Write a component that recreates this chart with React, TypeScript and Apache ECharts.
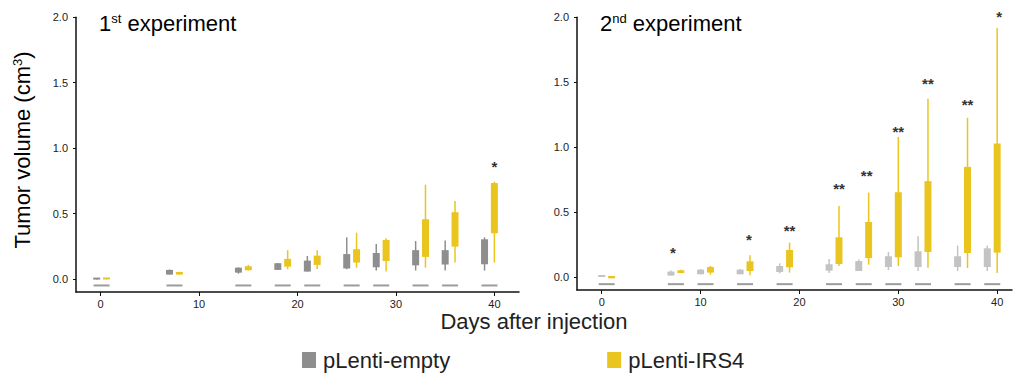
import React, { useEffect, useRef } from "react";
import * as echarts from "echarts";

const FONT = "'Liberation Sans', Arial, Helvetica, sans-serif";

// Experiment 1
const exp1GrayDays = [-0.4, 7, 14, 18, 21, 25, 28, 32, 35, 39];
const exp1YellowDays = [0.6, 8, 15, 19, 22, 26, 29, 33, 36, 40];
// [min, q1, q3, max]
const exp1Gray = [
  [-0.005, -0.005, 0.005, 0.005],
  [0.033, 0.033, 0.069, 0.072],
  [0.04, 0.048, 0.086, 0.088],
  [0.069, 0.069, 0.12, 0.122],
  [0.056, 0.056, 0.14, 0.175],
  [0.074, 0.08, 0.19, 0.318],
  [0.064, 0.089, 0.198, 0.267],
  [0.064, 0.104, 0.22, 0.29],
  [0.064, 0.11, 0.22, 0.293],
  [0.064, 0.112, 0.303, 0.318],
];
const exp1Yellow = [
  [-0.004, -0.004, 0.004, 0.004],
  [0.033, 0.033, 0.053, 0.055],
  [0.066, 0.066, 0.097, 0.107],
  [0.074, 0.094, 0.153, 0.22],
  [0.076, 0.107, 0.178, 0.22],
  [0.086, 0.125, 0.227, 0.353],
  [0.056, 0.137, 0.298, 0.31],
  [0.086, 0.168, 0.456, 0.72],
  [0.125, 0.247, 0.51, 0.595],
  [0.125, 0.349, 0.733, 0.743],
];
const exp1StarX = [40];
const exp1StarY = [0.89];
const exp1StarText = ["*"];

// Experiment 2
const exp2GrayDays = [0, 7, 10, 14, 18, 23, 26, 29, 32, 36, 39];
const exp2YellowDays = [1, 8, 11, 15, 19, 24, 27, 30, 33, 37, 40];
const exp2Gray = [
  [0, 0, 0.003, 0.003],
  [0.011, 0.011, 0.042, 0.05],
  [0.021, 0.021, 0.057, 0.06],
  [0.021, 0.021, 0.057, 0.06],
  [0.028, 0.039, 0.085, 0.105],
  [0.031, 0.049, 0.098, 0.139],
  [0.046, 0.046, 0.123, 0.134],
  [0.054, 0.077, 0.16, 0.193],
  [0.046, 0.077, 0.198, 0.314],
  [0.046, 0.077, 0.16, 0.242],
  [0.046, 0.077, 0.221, 0.242],
];
const exp2Yellow = [
  [-0.01, -0.01, 0.008, 0.008],
  [0.031, 0.031, 0.052, 0.055],
  [0.018, 0.034, 0.077, 0.085],
  [0.013, 0.046, 0.121, 0.167],
  [0.034, 0.075, 0.208, 0.265],
  [0.085, 0.1, 0.306, 0.547],
  [0.095, 0.146, 0.424, 0.65],
  [0.085, 0.152, 0.653, 1.079],
  [0.072, 0.193, 0.738, 1.372],
  [0.069, 0.185, 0.848, 1.226],
  [0.031, 0.188, 1.028, 1.917],
];
const exp2StarX = [7.2, 14.9, 19, 24, 26.8, 30, 33, 37, 40.2];
const exp2StarY = [0.22, 0.32, 0.39, 0.71, 0.81, 1.15, 1.52, 1.36, 2.035];
const exp2StarText = ["*", "*", "**", "**", "**", "**", "**", "**", "*"];

const dash1Y = -0.05;
const dash2Y = -0.055;

const xTicks = [0, 10, 20, 30, 40];
const yTicks = [0, 0.5, 1.0, 1.5, 2.0];

const GRAY_DARK = "#8e8e8e";
const GRAY_LIGHT = "#c3c3c3";
const YELLOW = "#ebc51f";
const DASH = "#9c9c9c";

function boxSeries(name: string, idx: number, days: number[], vals: number[][], color: string) {
  return {
    type: "custom",
    name,
    xAxisIndex: idx,
    yAxisIndex: idx,
    itemStyle: { color },
    data: days.map((d, i) => [d, ...vals[i]]),
    encode: { x: 0, y: [1, 2, 3, 4] },
    renderItem: (params: any, api: any) => {
      const x = api.value(0);
      const pMin = api.coord([x, api.value(1)]);
      const pQ1 = api.coord([x, api.value(2)]);
      const pQ3 = api.coord([x, api.value(3)]);
      const pMax = api.coord([x, api.value(4)]);
      const h = Math.max(pQ1[1] - pQ3[1], 2);
      return {
        type: "group",
        children: [
          {
            type: "line",
            shape: { x1: pMin[0], y1: pMin[1], x2: pMax[0], y2: pMax[1] },
            style: { stroke: color, lineWidth: 1.5 },
          },
          {
            type: "rect",
            shape: { x: pQ1[0] - 3.5, y: pQ1[1] - h, width: 7, height: h },
            style: { fill: color },
          },
        ],
      };
    },
  };
}

function dashSeries(idx: number, g: number[], y: number[], dy: number) {
  return {
    type: "custom",
    xAxisIndex: idx,
    yAxisIndex: idx,
    silent: true,
    data: g.map((d, i) => [(d + y[i]) / 2, dy]),
    renderItem: (params: any, api: any) => {
      const p = api.coord([api.value(0), api.value(1)]);
      return {
        type: "rect",
        shape: { x: p[0] - 8, y: p[1] - 1, width: 16, height: 2 },
        style: { fill: DASH },
      };
    },
  };
}

function starSeries(idx: number, xs: number[], ys: number[], texts: string[]) {
  return {
    type: "custom",
    xAxisIndex: idx,
    yAxisIndex: idx,
    silent: true,
    clip: false,
    data: xs.map((x, i) => [x, ys[i]]),
    renderItem: (params: any, api: any) => {
      const p = api.coord([api.value(0), api.value(1)]);
      return {
        type: "text",
        x: p[0],
        y: p[1] + 4,
        style: {
          text: texts[params.dataIndex],
          fill: "#333",
          font: `bold 15px ${FONT}`,
          align: "center",
          verticalAlign: "middle",
        },
      };
    },
  };
}

function xAxis(idx: number, max: number) {
  return {
    type: "value",
    gridIndex: idx,
    min: -2.5,
    max,
    axisLine: { show: true, onZero: false, lineStyle: { color: "#111", width: 1.5 } },
    axisTick: { show: true, length: 4, lineStyle: { color: "#111", width: 1 }, customValues: xTicks },
    axisLabel: { customValues: xTicks, color: "#222", fontSize: 11, fontFamily: FONT, margin: 6 },
    splitLine: { show: false },
  };
}

function yAxis(idx: number) {
  return {
    type: "value",
    gridIndex: idx,
    min: -0.1,
    max: 2.0,
    axisLine: { show: true, onZero: false, lineStyle: { color: "#111", width: 1.5 } },
    axisTick: { show: true, length: 3, lineStyle: { color: "#111", width: 1 }, customValues: yTicks },
    axisLabel: {
      customValues: yTicks,
      color: "#222",
      fontSize: 11,
      fontFamily: FONT,
      margin: 8,
      formatter: (v: number) => v.toFixed(1),
    },
    splitLine: { show: false },
  };
}

export default function App() {
  const ref = useRef<HTMLDivElement>(null);
  useEffect(() => {
    if (!ref.current) return;
    const chart = echarts.init(ref.current, undefined, { renderer: "svg" });
    const rich = {
      a: { fontSize: 22, fontFamily: FONT, color: "#222" },
      s: { fontSize: 13, fontFamily: FONT, color: "#222", verticalAlign: "top" },
    };
    chart.setOption({
      animation: false,
      backgroundColor: "#fff",
      grid: [
        { left: 76, top: 17.3, width: 443, height: 274.7 },
        { left: 577, top: 17.3, width: 435, height: 272.7 },
      ],
      xAxis: [xAxis(0, 42.5), xAxis(1, 41.5)],
      yAxis: [yAxis(0), yAxis(1)],
      legend: {
        left: 302,
        top: 349,
        padding: 0,
        itemWidth: 14,
        itemHeight: 16,
        itemGap: 157,
        selectedMode: false,
        textStyle: { fontSize: 22, fontFamily: FONT, color: "#222", padding: [0, 0, 0, 2] },
        data: [
          { name: "pLenti-empty", icon: "rect", itemStyle: { color: GRAY_DARK } },
          { name: "pLenti-IRS4", icon: "rect", itemStyle: { color: YELLOW } },
        ],
      },
      graphic: [
        {
          type: "text",
          left: 99,
          top: 12,
          style: { text: "{a|1}{s|st}{a| experiment}", rich },
        },
        {
          type: "text",
          left: 600,
          top: 12,
          style: { text: "{a|2}{s|nd}{a| experiment}", rich },
        },
        {
          type: "text",
          x: 22,
          y: 150,
          rotation: Math.PI / 2,
          style: {
            text: "{a|Tumor volume (cm}{s|3}{a|)}",
            rich,
            align: "center",
            verticalAlign: "middle",
          },
        },
        {
          type: "text",
          x: 534,
          y: 321,
          style: {
            text: "Days after injection",
            font: `22px ${FONT}`,
            fill: "#222",
            align: "center",
            verticalAlign: "middle",
          },
        },
      ],
      series: [
        dashSeries(0, exp1GrayDays, exp1YellowDays, dash1Y),
        dashSeries(1, exp2GrayDays, exp2YellowDays, dash2Y),
        boxSeries("pLenti-empty", 0, exp1GrayDays, exp1Gray, GRAY_DARK),
        boxSeries("pLenti-IRS4", 0, exp1YellowDays, exp1Yellow, YELLOW),
        boxSeries("pLenti-empty", 1, exp2GrayDays, exp2Gray, GRAY_LIGHT),
        boxSeries("pLenti-IRS4", 1, exp2YellowDays, exp2Yellow, YELLOW),
        starSeries(0, exp1StarX, exp1StarY, exp1StarText),
        starSeries(1, exp2StarX, exp2StarY, exp2StarText),
      ],
    });
    return () => chart.dispose();
  }, []);
  return (
    <div
      ref={ref}
      style={{ position: "fixed", left: 0, top: 0, width: 1014, height: 374, background: "#fff" }}
    />
  );
}
